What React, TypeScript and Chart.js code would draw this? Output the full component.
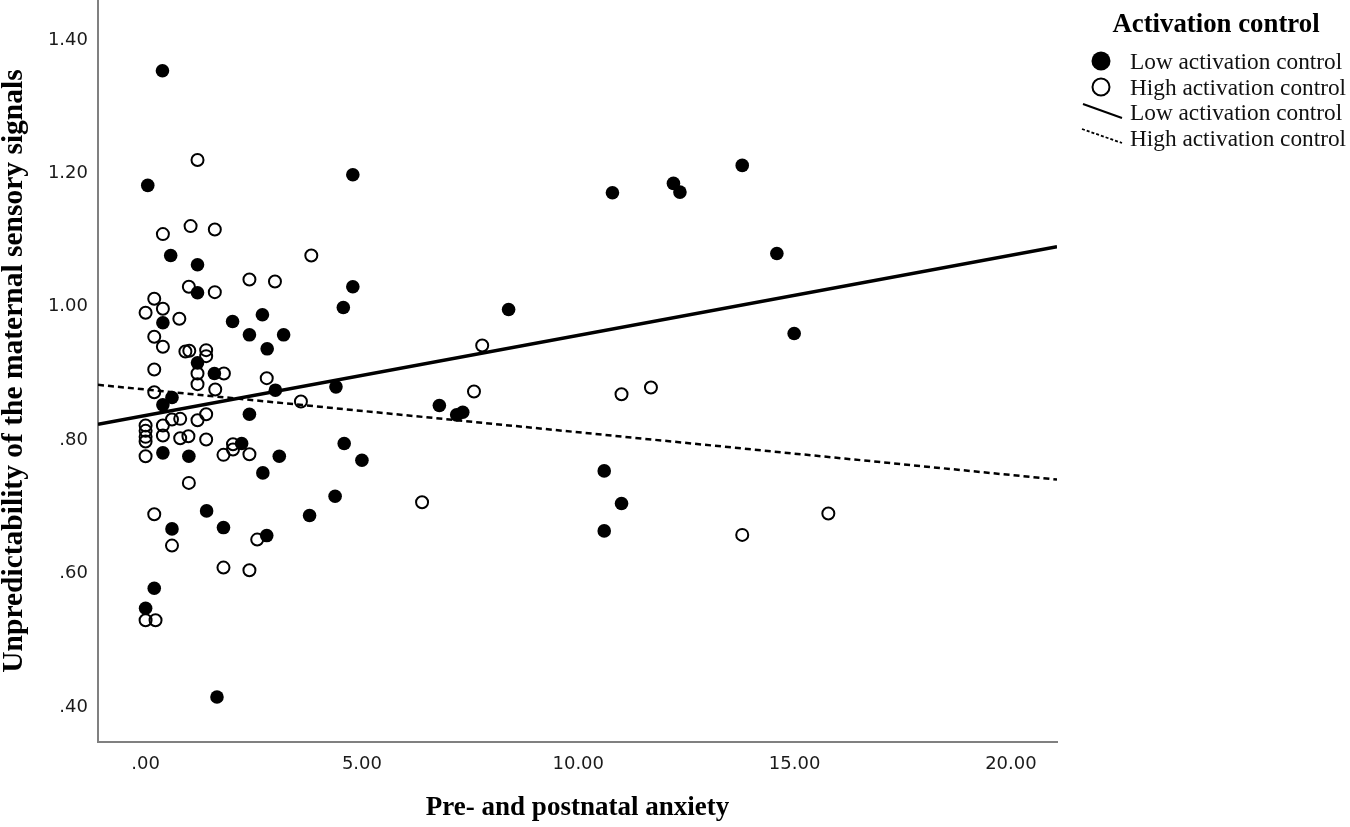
import { useEffect, useRef } from 'react';
import { Chart, registerables } from 'chart.js';

Chart.register(...registerables);

// Low activation control (filled markers)
const lowX = [0.39, 0.05, 0.58, 1.2, 1.2, 0.4, 2.01, 2.7, 2.4, 3.19, 2.81, 1.2, 1.59, 3.0, 0.61, 0.4, 2.4, 2.22, 0.4, 1.0, 3.09, 2.71, 1.41, 1.8, 0.61, 2.8, 3.79, 4.38, 0.2, 0.0, 1.65, 4.79, 4.79, 4.57, 8.39, 4.4, 6.79, 7.19, 7.33, 4.59, 5.0, 10.79, 12.2, 12.35, 13.79, 14.59, 14.99, 10.6, 11.0, 10.6];
const lowY = [1.354, 1.182, 1.077, 1.063, 1.021, 0.976, 0.978, 0.988, 0.958, 0.958, 0.937, 0.916, 0.9, 0.875, 0.864, 0.853, 0.839, 0.795, 0.781, 0.776, 0.776, 0.751, 0.694, 0.669, 0.667, 0.657, 0.687, 0.716, 0.578, 0.548, 0.415, 1.198, 1.03, 0.999, 0.996, 0.88, 0.852, 0.838, 0.842, 0.795, 0.77, 1.171, 1.185, 1.172, 1.212, 1.08, 0.96, 0.754, 0.705, 0.664];

// High activation control (open markers)
const highX = [1.2, 0.4, 1.04, 1.6, 3.83, 2.4, 2.99, 1.0, 1.6, 0.2, 0.4, 0.0, 0.78, 0.2, 0.4, 0.92, 1.01, 1.4, 1.4, 1.2, 1.2, 0.2, 1.81, 2.8, 1.61, 0.2, 3.59, 0.61, 0.8, 1.4, 1.2, 0, 0, 0, 0, 0.4, 0.4, 0.8, 0.99, 1.4, 2.02, 2.02, 1.8, 2.4, 0, 1.0, 0.2, 0.61, 2.58, 1.8, 2.4, 0, 0.23, 7.78, 7.59, 6.39, 11.0, 11.68, 13.79, 15.78];
const highY = [1.22, 1.109, 1.121, 1.116, 1.077, 1.041, 1.038, 1.03, 1.022, 1.012, 0.997, 0.991, 0.982, 0.955, 0.94, 0.933, 0.934, 0.935, 0.926, 0.9, 0.884, 0.906, 0.9, 0.893, 0.876, 0.872, 0.858, 0.831, 0.832, 0.839, 0.83, 0.822, 0.814, 0.805, 0.798, 0.822, 0.807, 0.803, 0.806, 0.801, 0.794, 0.786, 0.778, 0.779, 0.776, 0.736, 0.689, 0.642, 0.651, 0.609, 0.605, 0.53, 0.53, 0.942, 0.873, 0.707, 0.869, 0.879, 0.658, 0.69];

// fit lines, read at both ends of the x axis
const fitX = [-1.1, 21.065];
const lowFitY = [0.824, 1.09];
const highFitY = [0.883, 0.741];

const xTicks = [0, 5, 10, 15, 20];
const xTickLabels = ['.00', '5.00', '10.00', '15.00', '20.00'];
const yTicks = [0.4, 0.6, 0.8, 1.0, 1.2, 1.4];
const yTickLabels = ['.40', '.60', '.80', '1.00', '1.20', '1.40'];

const groups = ['Low activation control', 'High activation control'];

const pts = (xs: number[], ys: number[]) => xs.map((x, i) => ({ x, y: ys[i] }));

const tickLabel = (values: number[], labels: string[]) => (v: number | string) => {
  const i = values.findIndex((t) => Math.abs(t - Number(v)) < 1e-6);
  return i >= 0 ? labels[i] : '';
};

const serif = "'Liberation Serif', 'Times New Roman', serif";

export default function App() {
  const chartRef = useRef<HTMLCanvasElement>(null);
  const chartInstanceRef = useRef<Chart | null>(null);

  useEffect(() => {
    if (!chartRef.current) return;
    if (chartInstanceRef.current) chartInstanceRef.current.destroy();

    chartInstanceRef.current = new Chart(chartRef.current, {
      type: 'scatter',
      data: {
        datasets: [
          {
            label: groups[0] + ' fit',
            data: pts(fitX, lowFitY),
            showLine: true,
            borderColor: '#000',
            borderWidth: 3.5,
            pointRadius: 0,
          },
          {
            label: groups[1] + ' fit',
            data: pts(fitX, highFitY),
            showLine: true,
            borderColor: '#000',
            borderWidth: 2.5,
            borderDash: [6, 4],
            pointRadius: 0,
          },
          {
            label: groups[0],
            data: pts(lowX, lowY),
            pointRadius: 6.8,
            pointBorderWidth: 0,
            pointBackgroundColor: '#000',
            pointBorderColor: '#000',
          },
          {
            label: groups[1],
            data: pts(highX, highY),
            pointRadius: 6,
            pointBorderWidth: 2,
            pointBackgroundColor: 'rgba(0,0,0,0)',
            pointBorderColor: '#000',
          },
        ],
      },
      options: {
        animation: false,
        responsive: false,
        layout: { autoPadding: false, padding: { left: 0, right: 293, top: 0, bottom: 0 } },
        plugins: {
          legend: { display: false },
          tooltip: { enabled: false },
        },
        scales: {
          x: {
            type: 'linear',
            min: -1.1,
            max: 21.065,
            grid: { display: false, drawTicks: false },
            border: { display: true, color: '#808080', width: 2 },
            afterBuildTicks: (scale: any) => {
              scale.ticks = xTicks.map((value) => ({ value }));
            },
            afterFit: (scale: any) => {
              scale.height = 85;
              scale.paddingLeft = 0;
              scale.paddingRight = 0;
            },
            ticks: {
              padding: 12,
              color: '#1a1a1a',
              font: { family: "'DejaVu Sans', sans-serif", size: 18 },
              callback: tickLabel(xTicks, xTickLabels),
            },
            title: {
              display: true,
              text: 'Pre- and postnatal anxiety',
              color: '#000',
              font: { family: serif, size: 27, weight: 'bold', lineHeight: 1.2 },
              padding: { top: 0, bottom: 3 },
            },
          },
          y: {
            type: 'linear',
            min: 0.3475,
            max: 1.46,
            grid: { display: false, drawTicks: false },
            border: { display: true, color: '#808080', width: 2 },
            afterBuildTicks: (scale: any) => {
              scale.ticks = yTicks.map((value) => ({ value }));
            },
            afterFit: (scale: any) => {
              scale.width = 98;
              scale.paddingTop = 0;
              scale.paddingBottom = 0;
            },
            ticks: {
              padding: 10,
              color: '#1a1a1a',
              font: { family: "'DejaVu Sans', sans-serif", size: 18 },
              callback: tickLabel(yTicks, yTickLabels),
            },
            title: {
              display: true,
              text: 'Unpredictability of the maternal sensory signals',
              color: '#000',
              font: { family: serif, size: 29.5, weight: 'bold', lineHeight: 1 },
              padding: { top: 0, bottom: 0 },
            },
          },
        },
      },
    } as any);

    return () => {
      if (chartInstanceRef.current) {
        chartInstanceRef.current.destroy();
        chartInstanceRef.current = null;
      }
    };
  }, []);

  const itemFont = { fontFamily: serif, fontSize: 23.3, fill: '#111' };

  return (
    <div style={{ position: 'absolute', left: 0, top: 0, width: 1350, height: 827, background: '#fff' }}>
      <canvas ref={chartRef} width={1350} height={827} style={{ display: 'block' }} />
      <svg width={1350} height={827} style={{ position: 'absolute', left: 0, top: 0, pointerEvents: 'none' }}>
        <text x={1216} y={32} textAnchor="middle" style={{ fontFamily: serif, fontSize: 26.8, fontWeight: 'bold' }} fill="#000">
          Activation control
        </text>
        <circle cx={1101} cy={61} r={9.5} fill="#000" />
        <text x={1130} y={69} style={itemFont}>{groups[0]}</text>
        <circle cx={1101} cy={87} r={8.5} fill="none" stroke="#000" strokeWidth={2} />
        <text x={1130} y={95} style={itemFont}>{groups[1]}</text>
        <line x1={1083} y1={104} x2={1122} y2={118} stroke="#000" strokeWidth={2} />
        <text x={1130} y={120} style={itemFont}>{groups[0]}</text>
        <line x1={1082} y1={129} x2={1122} y2={143} stroke="#000" strokeWidth={1.8} strokeDasharray="3 2" />
        <text x={1130} y={146} style={itemFont}>{groups[1]}</text>
      </svg>
    </div>
  );
}
